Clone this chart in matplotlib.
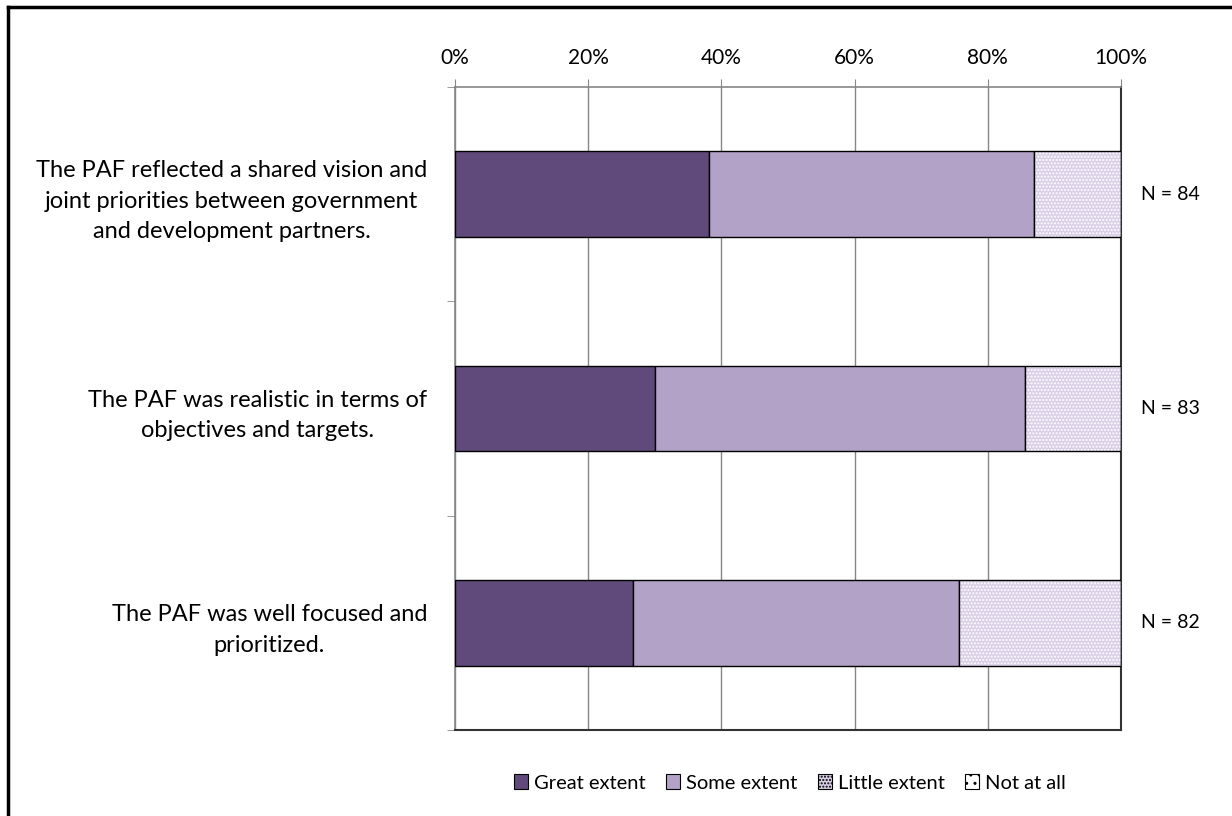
import matplotlib
matplotlib.use("Agg")
import matplotlib.pyplot as plt
from matplotlib.patches import Patch
from matplotlib.lines import Line2D
import numpy as np

plt.rcParams['font.family'] = ['Lato', 'DejaVu Sans']

categories = [
    "The PAF reflected a shared vision and\njoint priorities between government\nand development partners.",
    "The PAF was realistic in terms of\nobjectives and targets.",
    "The PAF was well focused and\nprioritized.",
]
n_labels = ["N = 84", "N = 83", "N = 82"]
series_names = ["Great extent", "Some extent", "Little extent", "Not at all"]
great = [38.1, 30.0, 26.7]
some = [48.8, 55.6, 49.0]
little = [13.1, 14.4, 24.3]
not_at_all = [0.0, 0.0, 0.0]
x_ticks = [0, 20, 40, 60, 80, 100]

colors = ["#604A7B", "#B3A2C7", "#D9CFE6", "#FFFFFF"]

fig = plt.figure(figsize=(12.32, 8.16), dpi=100)
ax = fig.add_axes([455/1232, 1-730/816, 666/1232, 643/816])

y = np.arange(len(categories))
h = 0.4
left = np.zeros(len(categories))
data = [great, some, little, not_at_all]
for i, vals in enumerate(data):
    vals = np.array(vals)
    if i == 2:
        ax.barh(y, vals, left=left, height=h, color=colors[i], edgecolor="white",
                hatch=".....", linewidth=0, zorder=3)
        ax.barh(y, vals, left=left, height=h, fill=False, edgecolor="black",
                linewidth=1.0, zorder=4)
    else:
        ax.barh(y, vals, left=left, height=h, color=colors[i], edgecolor="black",
                linewidth=1.0, zorder=3)
    left += vals

ax.set_xlim(0, 100)
ax.set_ylim(len(categories) - 0.5, -0.5)
ax.xaxis.tick_top()
ax.set_xticks(x_ticks)
ax.set_xticklabels([f"{t}%" for t in x_ticks], fontsize=15)
ax.tick_params(axis="x", length=6, color="#888888", pad=8, top=True, bottom=False)
ax.set_yticks(y)
ax.set_yticklabels(categories, fontsize=17, linespacing=1.58)
for lbl in ax.get_yticklabels():
    lbl.set_multialignment("center")
ax.tick_params(axis="y", which="major", length=0, pad=20)
ax.set_yticks(np.arange(-0.5, len(categories)), minor=True)
ax.tick_params(axis="y", which="minor", length=6, color="#888888")
ax.grid(axis="x", color="#868686", linewidth=1.0, zorder=0)
ax.set_axisbelow(True)
for s in ["top", "left"]:
    ax.spines[s].set_color("#868686")
    ax.spines[s].set_linewidth(1.2)
for s in ["bottom", "right"]:
    ax.spines[s].set_color("#333333")
    ax.spines[s].set_linewidth(1.5)

for yi, lab in zip(y, n_labels):
    ax.text(1.03, yi, lab, transform=ax.get_yaxis_transform(), va="center",
            ha="left", fontsize=14)

handles = []
for i, name in enumerate(series_names):
    if i == 2:
        handles.append(Patch(facecolor=colors[i], edgecolor="black", hatch=".....", linewidth=0.8, label=name))
    elif i == 3:
        handles.append(Patch(facecolor=colors[i], edgecolor="black", hatch="..", linewidth=0.8, label=name))
    else:
        handles.append(Patch(facecolor=colors[i], edgecolor="black", linewidth=0.8, label=name))
fig.legend(handles=handles, loc="center", bbox_to_anchor=(790/1232, 1-783/816), ncol=4,
           frameon=False, fontsize=14.5, handlelength=0.7, handleheight=0.7,
           handletextpad=0.3, columnspacing=1.0)

fig.add_artist(Line2D([8/1232, 8/1232], [0, 1-7/816], transform=fig.transFigure, color="black", linewidth=2.5))
fig.add_artist(Line2D([8/1232, 1], [1-7/816, 1-7/816], transform=fig.transFigure, color="black", linewidth=2.5))

fig.savefig("out.png", dpi=100)
